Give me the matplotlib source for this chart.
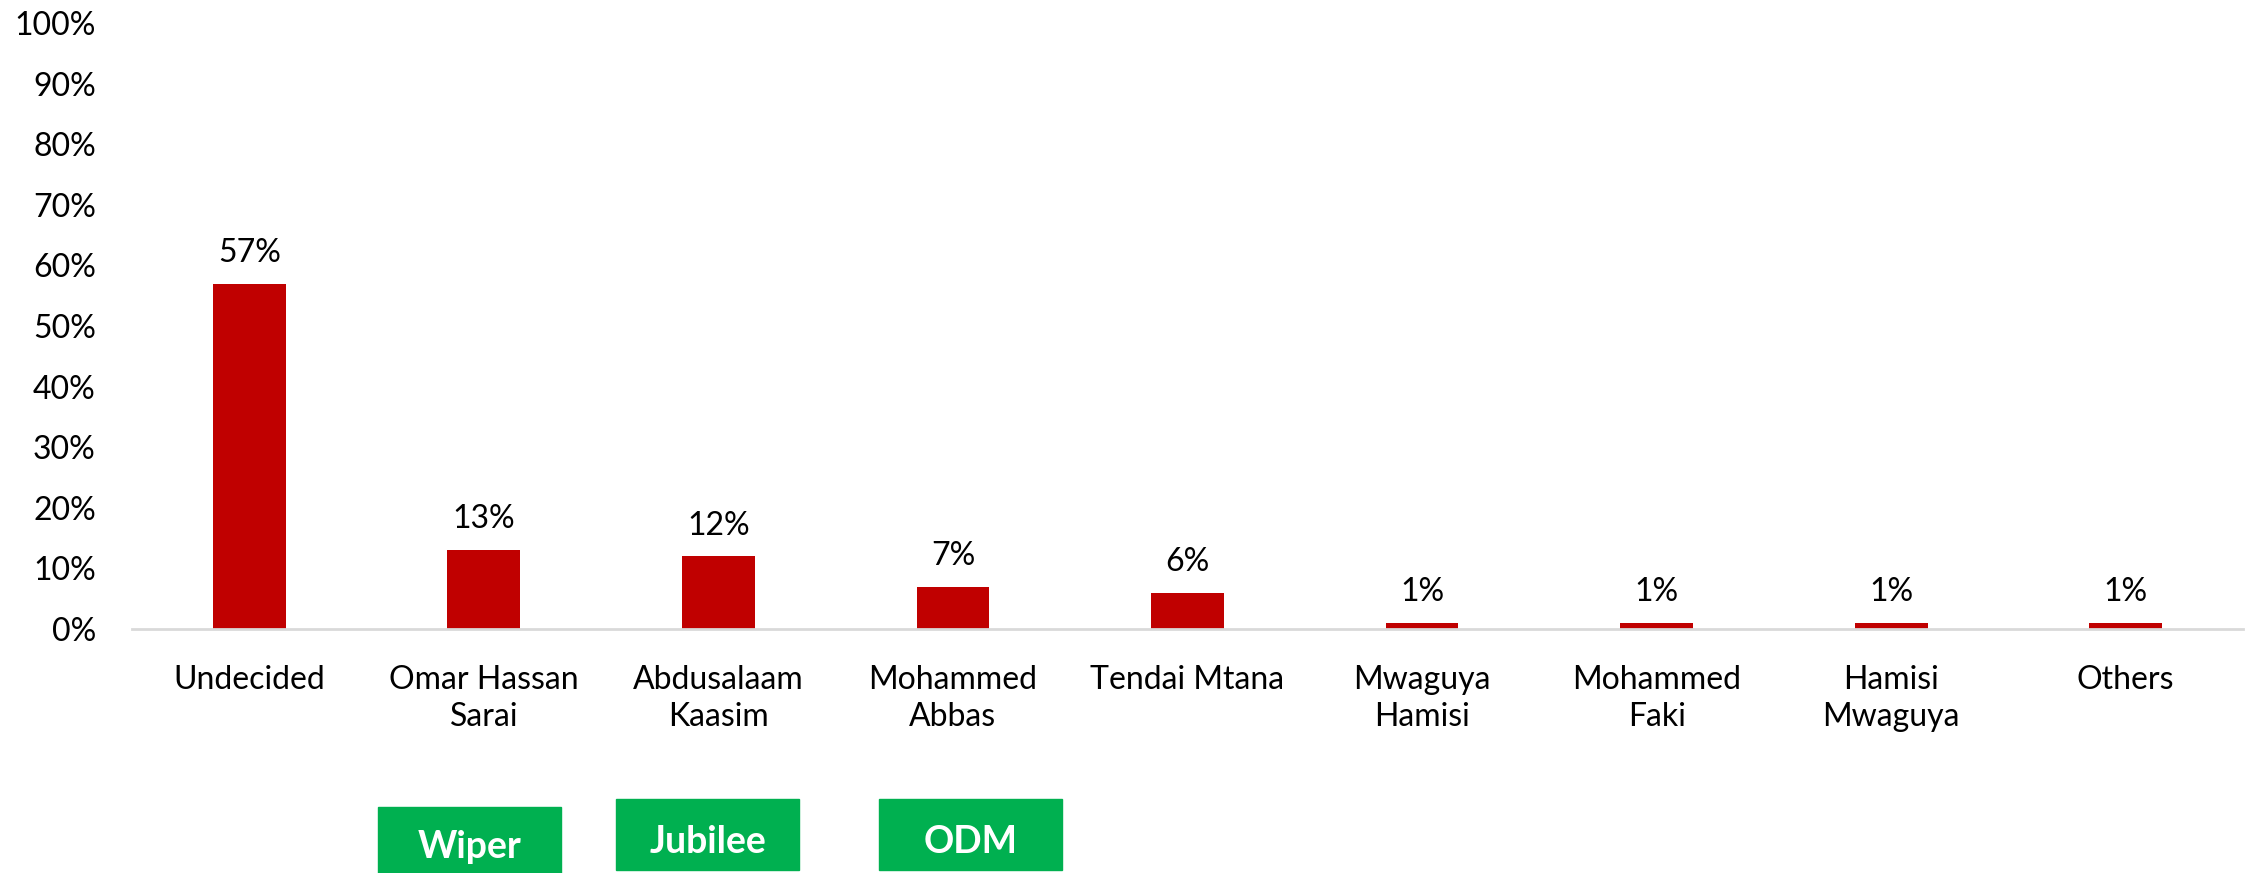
import matplotlib.pyplot as plt
import matplotlib.transforms as mtransforms
from matplotlib.patches import Rectangle
import numpy as np

plt.rcParams['font.family'] = ['Lato', 'DejaVu Sans']

# data
candidates = ['Undecided', 'Omar Hassan\nSarai', 'Abdusalaam\nKaasim', 'Mohammed\nAbbas',
              'Tendai Mtana', 'Mwaguya\nHamisi', 'Mohammed\nFaki', 'Hamisi\nMwaguya', 'Others']
share = [57, 13, 12, 7, 6, 1, 1, 1, 1]
parties = ['Wiper', 'Jubilee', 'ODM']
party_pos = [1, 2, 3]

bar_col = '#C00000'
green = '#00B050'
fs = 23

fig = plt.figure(figsize=(22.52, 8.73), dpi=100)
ax = fig.add_axes([0.0586, 0.2795, 0.9374, 0.6942])

x = np.arange(len(candidates))
ax.bar(x, share, width=0.31, color=bar_col, zorder=2)
for xi, v in zip(x, share):
    ax.text(xi, v + 2.6, f'{v}%', ha='center', va='bottom', fontsize=fs)

ax.set_xlim(-0.5, len(candidates) - 0.5)
ax.set_ylim(0, 100)
ax.set_yticks(np.arange(0, 101, 10))
ax.set_yticklabels([f'{t}%' for t in range(0, 101, 10)], fontsize=fs)
ax.set_xticks(x)
ax.set_xticklabels(candidates, fontsize=fs, linespacing=1.3)
ax.tick_params(axis='x', length=0, pad=26)
ax.tick_params(axis='y', length=0, pad=26)
for s in ['top', 'right', 'left']:
    ax.spines[s].set_visible(False)
ax.spines['bottom'].set_color('#D9D9D9')
ax.spines['bottom'].set_linewidth(2)

# party boxes under the candidates (boxes sit a bit off-centre in the original)
trans = mtransforms.blended_transform_factory(ax.transData, fig.transFigure)
box_shift = [-0.06, -0.045, 0.075]
box_y0 = [0.0, 0.003, 0.003]
box_h = [0.076, 0.082, 0.082]
for p, xp, dx, y0, h in zip(parties, party_pos, box_shift, box_y0, box_h):
    ax.add_patch(Rectangle((xp + dx - 0.39, y0), 0.78, h, transform=trans,
                           color=green, clip_on=False))
    ax.text(xp + dx, y0 + h / 2 - 0.008, p, transform=trans, ha='center', va='center',
            color='white', fontsize=27, fontweight='bold')

fig.savefig('out.png', dpi=100)
